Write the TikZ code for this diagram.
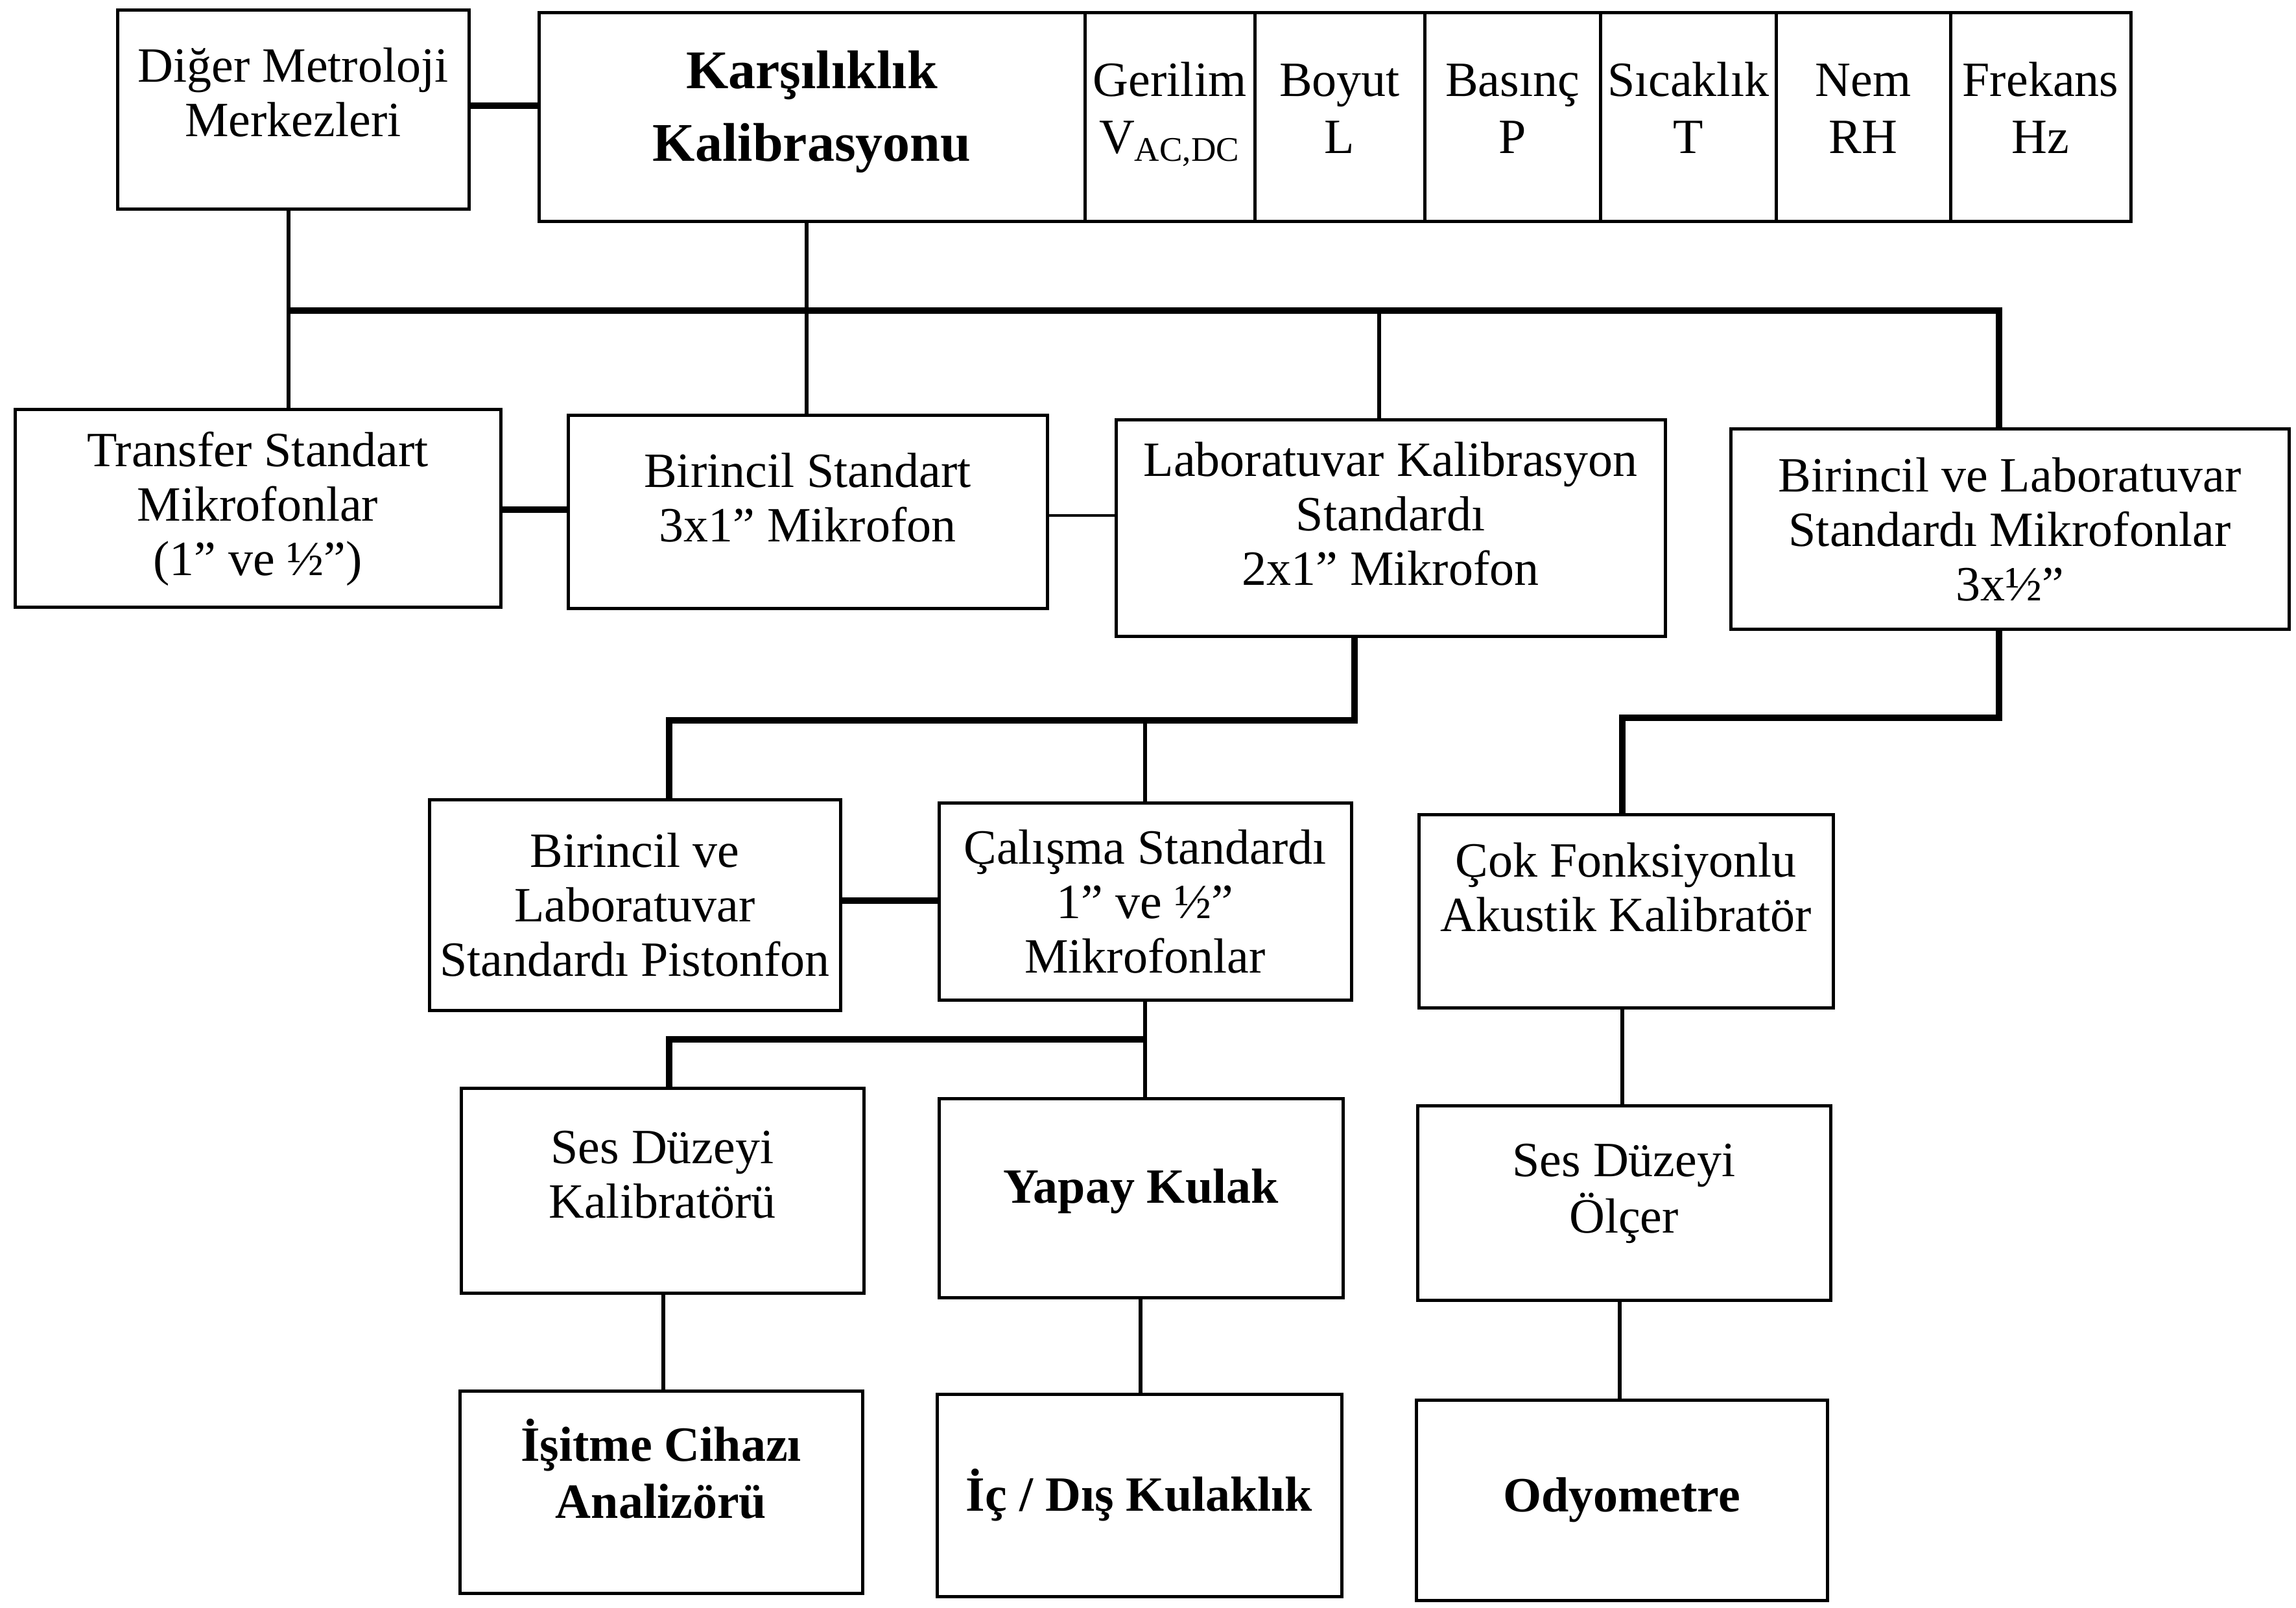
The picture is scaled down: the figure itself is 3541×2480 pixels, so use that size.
\documentclass[tikz,border=0pt]{standalone}
\usepackage{fontspec}
\setmainfont{Liberation Serif}
\newcommand\mkbox[7][]{%
  \pgfmathsetmacro\bw{(#4-#2)*0.25}%
  \pgfmathsetmacro\bh{(#5-#3)*0.25}%
  \node[box,minimum width=\bw pt,minimum height=\bh pt,#1] (#6) at ({(#2+#4)/2},{(#3+#5)/2}) {#7};}
\newcommand\up[2]{\raisebox{#1pt}[\height][\depth]{\begin{tabular}{@{}c@{}}#2\end{tabular}}}
\begin{document}
\begin{tikzpicture}[x=0.25pt,y=-0.25pt,
  box/.style={draw,line width=1.25pt,inner sep=2pt,align=center,font=\fontsize{19}{21}\selectfont},
  unitbox/.style={font=\fontsize{19}{22}\selectfont},
  bigbold/.style={font=\fontsize{21}{28}\selectfont\bfseries},
  boldtxt/.style={font=\fontsize{19}{22}\selectfont\bfseries},
  thickln/.style={line width=2.3pt},
  medln/.style={line width=1.7pt},
  thinln/.style={line width=0.9pt}]
\useasboundingbox (0,0) rectangle (3541,2480);
% row 1
\mkbox{181}{16}{723}{323}{diger}{\up{4.5}{Diğer Metroloji\\Merkezleri}}
\mkbox[bigbold]{831}{20}{1673}{342}{kars}{\up{2.8}{Karşılıklık\\Kalibrasyonu}}
\mkbox[unitbox]{1673}{20}{1935}{342}{ger}{\up{1.5}{Gerilim\\V\textsubscript{AC,DC}}}
\mkbox[unitbox]{1935}{20}{2197}{342}{boy}{\up{1.5}{Boyut\\L}}
\mkbox[unitbox]{2197}{20}{2468}{342}{bas}{\up{1.5}{Basınç\\P}}
\mkbox[unitbox]{2468}{20}{2739}{342}{sic}{\up{1.5}{Sıcaklık\\T}}
\mkbox[unitbox]{2739}{20}{3008}{342}{nem}{\up{1.5}{Nem\\RH}}
\mkbox[unitbox]{3008}{20}{3286}{342}{frek}{\up{1.5}{Frekans\\Hz}}
% row 2
\mkbox{23}{632}{772}{937}{transfer}{Transfer Standart\\Mikrofonlar\\(1” ve ½”)}
\mkbox{876}{641}{1615}{939}{birstd}{\up{3.4}{Birincil Standart\\3x1” Mikrofon}}
\mkbox{1721}{648}{2568}{982}{labkal}{\up{3.4}{Laboratuvar Kalibrasyon\\Standardı\\2x1” Mikrofon}}
\mkbox{2669}{662}{3530}{971}{birlab}{Birincil ve Laboratuvar\\Standardı Mikrofonlar\\3x½”}
% row 3
\mkbox{662}{1233}{1296}{1558}{piston}{Birincil ve\\Laboratuvar\\Standardı Pistonfon}
\mkbox{1448}{1238}{2084}{1542}{calisma}{Çalışma Standardı\\1” ve ½”\\Mikrofonlar}
\mkbox{2188}{1256}{2827}{1554}{cok}{\up{6.8}{Çok Fonksiyonlu\\Akustik Kalibratör}}
% row 4
\mkbox{711}{1678}{1332}{1994}{seskal}{\up{4}{Ses Düzeyi\\Kalibratörü}}
\mkbox[boldtxt]{1448}{1694}{2071}{2001}{yapay}{\up{2.3}{Yapay Kulak}}
\mkbox{2186}{1705}{2823}{2005}{sesolc}{\up{3.4}{Ses Düzeyi\\Ölçer}}
% row 5
\mkbox[boldtxt]{709}{2145}{1330}{2457}{isitme}{\up{5.6}{İşitme Cihazı\\Analizörü}}
\mkbox[boldtxt]{1445}{2150}{2069}{2462}{icdis}{İç / Dış Kulaklık}
\mkbox[boldtxt]{2184}{2159}{2818}{2468}{odyo}{Odyometre}
% helper coordinates
\coordinate (ytop) at (0,163);
\coordinate (ybus) at (0,479);
\coordinate (xa) at (445,0);
\coordinate (xb) at (1244,0);
\coordinate (xc) at (2127,0);
\coordinate (xd) at (3083,0);
\coordinate (yr2a) at (0,786);
\coordinate (yr2b) at (0,795);
\coordinate (ylab) at (0,1111);
\coordinate (xlab) at (2089,0);
\coordinate (xp) at (1032,0);
\coordinate (xw) at (1766,0);
\coordinate (yblab) at (0,1107);
\coordinate (xk) at (2502,0);
\coordinate (yr3) at (0,1389);
\coordinate (ycal) at (0,1603);
\coordinate (xq1) at (1023,0);
\coordinate (xq2) at (1759,0);
\coordinate (xq3) at (2498,0);
% connectors
\draw[thickln] (diger.east |- ytop) -- (kars.west |- ytop);
\draw[medln] (diger.south -| xa) -- (transfer.north -| xa);
\draw[medln] (kars.south -| xb) -- (birstd.north -| xb);
\draw[thickln] (xa |- ybus) -- (xd |- ybus) -- (birlab.north -| xd);
\draw[medln] (xc |- ybus) -- (labkal.north -| xc);
\draw[thickln] (transfer.east |- yr2a) -- (birstd.west |- yr2a);
\draw[thinln] (birstd.east |- yr2b) -- (labkal.west |- yr2b);
\draw[thickln] (labkal.south -| xlab) -- (xlab |- ylab) -- (xp |- ylab) -- (piston.north -| xp);
\draw[medln] (xw |- ylab) -- (calisma.north -| xw);
\draw[thickln] (birlab.south -| xd) -- (xd |- yblab) -- (xk |- yblab) -- (cok.north -| xk);
\draw[thickln] (piston.east |- yr3) -- (calisma.west |- yr3);
\draw[medln] (calisma.south -| xw) -- (yapay.north -| xw);
\draw[thickln] (xw |- ycal) -- (xp |- ycal) -- (seskal.north -| xp);
\draw[medln] (cok.south -| xk) -- (sesolc.north -| xk);
\draw[medln] (seskal.south -| xq1) -- (isitme.north -| xq1);
\draw[medln] (yapay.south -| xq2) -- (icdis.north -| xq2);
\draw[medln] (sesolc.south -| xq3) -- (odyo.north -| xq3);
\end{tikzpicture}
\end{document}
